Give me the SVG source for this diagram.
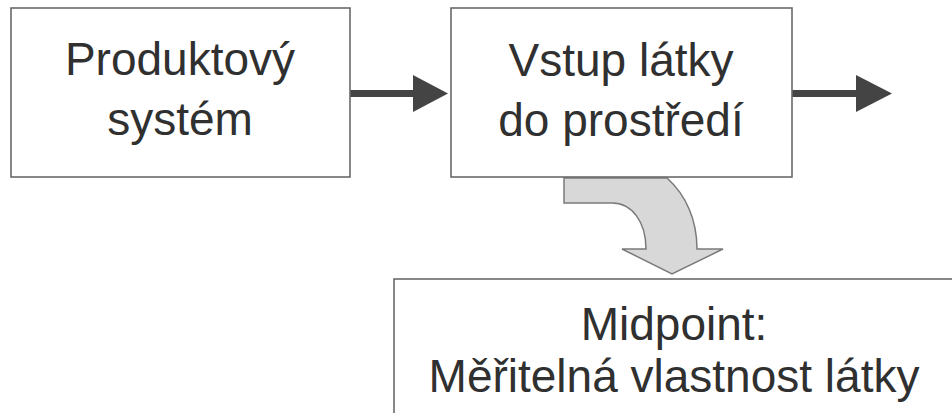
<svg xmlns="http://www.w3.org/2000/svg" width="952" height="413" viewBox="0 0 952 413">
<style>
.box{fill:#fff;stroke:#6a6a6a;stroke-width:1.6}
.t{font-family:"Liberation Sans",Arial,sans-serif;font-size:46px;fill:#303030;text-anchor:middle}
.shaft{stroke:#444;stroke-width:7;stroke-linecap:round;fill:none}
.head{fill:#444}
.bend{fill:#d8d8d8;stroke:#7a7a7a;stroke-width:1.5;stroke-linejoin:miter}
</style>
<rect width="952" height="413" fill="#fff"/>
<g id="connectors">
<line class="shaft" x1="349" y1="93.5" x2="418" y2="93.5"/>
<polygon class="head" points="413,75 448,93.5 413,112"/>
<line class="shaft" x1="790" y1="93.5" x2="860" y2="93.5"/>
<polygon class="head" points="856,75 892,93.5 856,112"/>
<path class="bend" d="M564,178 L564,203 L612,203 C632,203 646,222 646,249 L622,249 L672,274 L723,249 L697,249 C697,220 686,195 667,178 Z"/>
</g>
<g id="node-produktovy">
<rect class="box" x="11" y="8" width="339" height="169"/>
<text class="t" x="180" y="75">Produktový</text>
<text class="t" x="180" y="135">systém</text>
</g>
<g id="node-vstup">
<rect class="box" x="451" y="8" width="341" height="169"/>
<text class="t" x="621" y="76">Vstup látky</text>
<text class="t" x="621" y="136">do prostředí</text>
</g>
<g id="node-midpoint">
<rect class="box" x="394" y="279" width="570" height="150"/>
<text class="t" x="674" y="340">Midpoint:</text>
<text class="t" x="674" y="392">Měřitelná vlastnost látky</text>
</g>
</svg>
